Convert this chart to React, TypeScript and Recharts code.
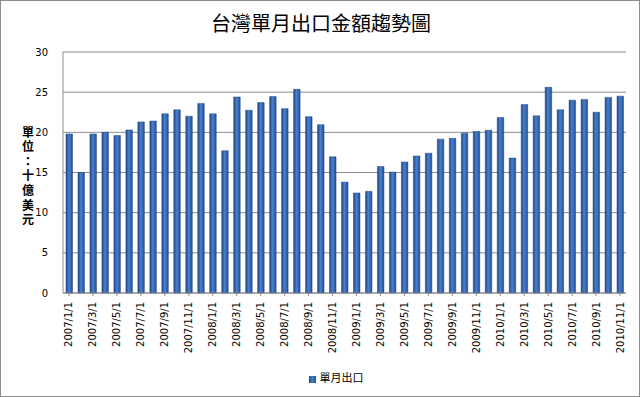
import React from "react";
import { BarChart, Bar, XAxis, YAxis, CartesianGrid, Legend } from "recharts";

// monthly export value, USD billions
const months = [
  "2007/1/1", "2007/2/1", "2007/3/1", "2007/4/1", "2007/5/1", "2007/6/1",
  "2007/7/1", "2007/8/1", "2007/9/1", "2007/10/1", "2007/11/1", "2007/12/1",
  "2008/1/1", "2008/2/1", "2008/3/1", "2008/4/1", "2008/5/1", "2008/6/1",
  "2008/7/1", "2008/8/1", "2008/9/1", "2008/10/1", "2008/11/1", "2008/12/1",
  "2009/1/1", "2009/2/1", "2009/3/1", "2009/4/1", "2009/5/1", "2009/6/1",
  "2009/7/1", "2009/8/1", "2009/9/1", "2009/10/1", "2009/11/1", "2009/12/1",
  "2010/1/1", "2010/2/1", "2010/3/1", "2010/4/1", "2010/5/1", "2010/6/1",
  "2010/7/1", "2010/8/1", "2010/9/1", "2010/10/1", "2010/11/1",
];

const exports = [
  19.8, 15.0, 19.8, 20.0, 19.6, 20.3, 21.3, 21.4, 22.3, 22.8, 22.0, 23.6,
  22.3, 17.7, 24.4, 22.75, 23.7, 24.45, 22.95, 25.35, 21.95, 20.95, 16.95, 13.8,
  12.45, 12.65, 15.75, 15.05, 16.3, 17.05, 17.4, 19.15, 19.25, 19.9, 20.1, 20.25,
  21.85, 16.8, 23.45, 22.05, 25.6, 22.8, 24.0, 24.1, 22.5, 24.35, 24.5,
];

const yTicks = [0, 5, 10, 15, 20, 25, 30];

const data = months.map((m, i) => ({ month: m, value: exports[i] }));

const FONT = "'DejaVu Sans', sans-serif";
const CJK = "'Noto Sans CJK TC', sans-serif";

function MonthTick(props: any) {
  const { x, y, payload } = props;
  return (
    <text
      x={0}
      y={0}
      transform={`translate(${x + 3.5},${y + 4}) rotate(-90)`}
      textAnchor="end"
      fontSize={10}
      fontFamily={FONT}
      fill="#000"
    >
      {payload.value}
    </text>
  );
}

// vertical stacked unit label
function UnitLabel() {
  return (
    <text
      x={28}
      y={126}
      fontSize={12}
      fontWeight="bold"
      fontFamily={CJK}
      fill="#000"
      letterSpacing={2.6}
      style={{ writingMode: "vertical-rl" }}
    >
      單位：十億美元
    </text>
  );
}

export default function App() {
  return (
    <div
      style={{
        position: "absolute",
        left: 0,
        top: 0,
        width: 640,
        height: 397,
        background: "#fff",
        border: "1px solid #8c8c8c",
        boxSizing: "border-box",
      }}
    >
      <div
        style={{
          position: "absolute",
          top: 8,
          left: 0,
          width: 640,
          textAlign: "center",
          fontFamily: CJK,
          fontSize: 20,
          lineHeight: "28px",
          color: "#000",
        }}
      >
        台灣單月出口金額趨勢圖
      </div>
      <div style={{ position: "absolute", left: -1, top: -1 }}>
        <BarChart
          width={640}
          height={397}
          data={data}
          margin={{ top: 52, right: 14, left: 0, bottom: 8 }}
        >
          <defs>
            <linearGradient id="barFill" x1="0" y1="0" x2="1" y2="0">
              <stop offset="0%" stopColor="#1f4784" />
              <stop offset="45%" stopColor="#4a80cf" />
              <stop offset="100%" stopColor="#244f91" />
            </linearGradient>
          </defs>
          <CartesianGrid vertical={false} stroke="#8c8c8c" />
          <XAxis
            dataKey="month"
            interval={1}
            height={76}
            tick={<MonthTick />}
            tickLine={{ stroke: "#8c8c8c" }}
            tickSize={3}
            axisLine={{ stroke: "#8c8c8c" }}
          />
          <YAxis
            width={63}
            domain={[0, 30]}
            ticks={yTicks}
            tickLine={false}
            tickMargin={9}
            axisLine={{ stroke: "#8c8c8c" }}
            tick={{ fontSize: 10, fontFamily: FONT, fill: "#000" }}
            label={<UnitLabel />}
          />
          <Legend
            verticalAlign="bottom"
            height={20}
            iconType="square"
            iconSize={7}
            wrapperStyle={{ fontFamily: CJK, fontSize: 11, color: "#000", paddingLeft: 28 }}
            formatter={(v) => <span style={{ color: "#000" }}>{v}</span>}
          />
          <Bar
            dataKey="value"
            name="單月出口"
            fill="url(#barFill)"
            stroke="#1d4380"
            strokeWidth={0.5}
            barSize={6.5}
            isAnimationActive={false}
            legendType="square"
          />
        </BarChart>
      </div>
    </div>
  );
}
